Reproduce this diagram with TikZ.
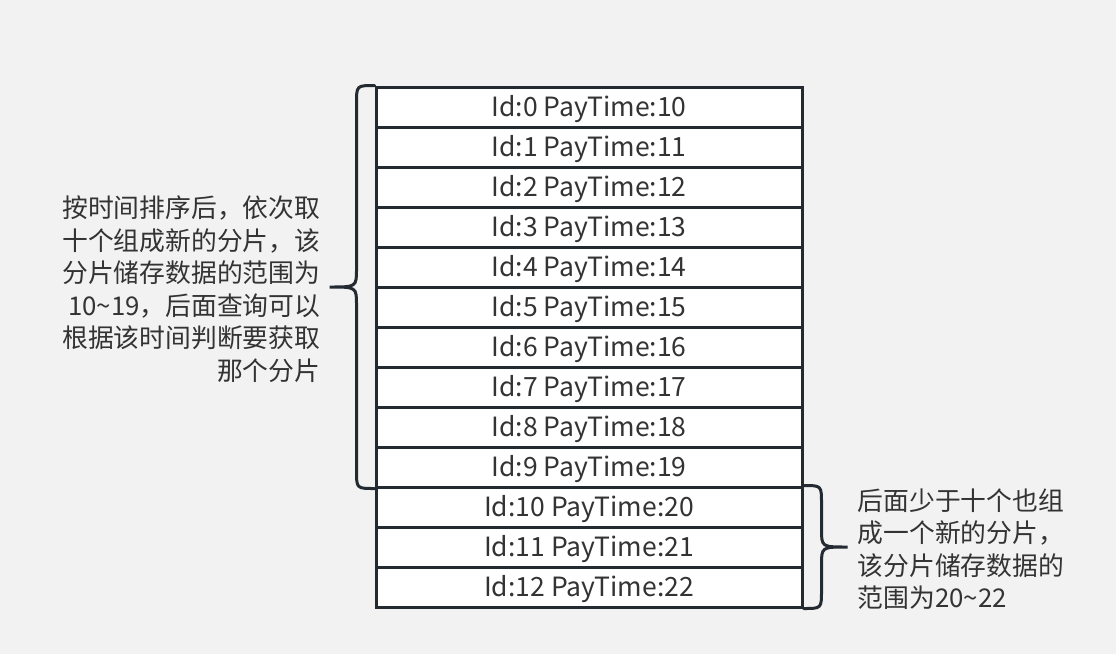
\documentclass[tikz,border=0pt]{standalone}
\usepackage{fontspec}
\setmainfont{Noto Sans CJK SC}
\usetikzlibrary{calc,%
		positioning}
\definecolor{bgcol}{HTML}{F2F2F2}
\definecolor{linecol}{HTML}{232A31}
\definecolor{txtcol}{HTML}{333333}

\begin{document}
\begin{tikzpicture}[x=1pt,y=-1pt,
	cell/.style={draw=linecol,fill=white,line width=3pt,minimum width=426pt,minimum height=40pt,inner sep=0pt,text height=24pt,text depth=5pt,text=txtcol,font=\fontsize{26.5}{32.5}\selectfont},
	note/.style={text=txtcol,inner sep=0pt,font=\fontsize{25.8}{32.5}\selectfont},
	bracket/.style={draw=linecol,line width=3pt,line cap=round}]
\pgfmathsetmacro{\rad}{18};

\useasboundingbox[fill=bgcol] (0,0) rectangle (1116,654);

% rows of the table
\foreach \i [evaluate=\i as \t using int(\i+10)] in {0,...,12}
	\node[cell] (r\i) at (589,{107+40*\i}) {Id:\i\ PayTime:\t};

% left brace
\begin{scope}
\coordinate (la) at ($(r0.north west)+(-\rad,0)$);
\coordinate (lb) at ($(r9.south west)+(-\rad,0)$);
\coordinate (lm) at ($(la)!.5!(lb)$);
\coordinate (ltip) at ($(lm)+(-27,0)$);
\draw[bracket] (r0.north west) .. controls (la) .. ($(la)+(0,\rad)$)
	-- ($(lm)+(0,-\rad)$) .. controls (lm) .. (ltip)
	.. controls (lm) .. ($(lm)+(0,\rad)$)
	-- ($(lb)+(0,-\rad)$) .. controls (lb) .. (r9.south west);
\end{scope}

% right brace
\begin{scope}
\coordinate (ra) at ($(r10.north east)+(\rad,0)$);
\coordinate (rb) at ($(r12.south east)+(\rad,0)$);
\coordinate (rm) at ($(ra)!.5!(rb)$);
\coordinate (rtip) at ($(rm)+(26,0)$);
\draw[bracket] (r10.north east) .. controls (ra) .. ($(ra)+(0,\rad)$)
	-- ($(rm)+(0,-\rad)$) .. controls (rm) .. (rtip)
	.. controls (rm) .. ($(rm)+(0,\rad)$)
	-- ($(rb)+(0,-\rad)$) .. controls (rb) .. (r12.south east);
\end{scope}

\node[note,anchor=east,align=right] (lnote) at ($(ltip)+(-9,2)$) {按时间排序后，依次取\\十个组成新的分片，该\\分片储存数据的范围为\\10{\char"7E}19，后面查询可以\\根据该时间判断要获取\\那个分片};
\node[note,anchor=west,align=left] (rnote) at ($(rtip)+(10,2)$) {后面少于十个也组\\成一个新的分片，\\该分片储存数据的\\范围为20{\char"7E}22};
\end{tikzpicture}
\end{document}
